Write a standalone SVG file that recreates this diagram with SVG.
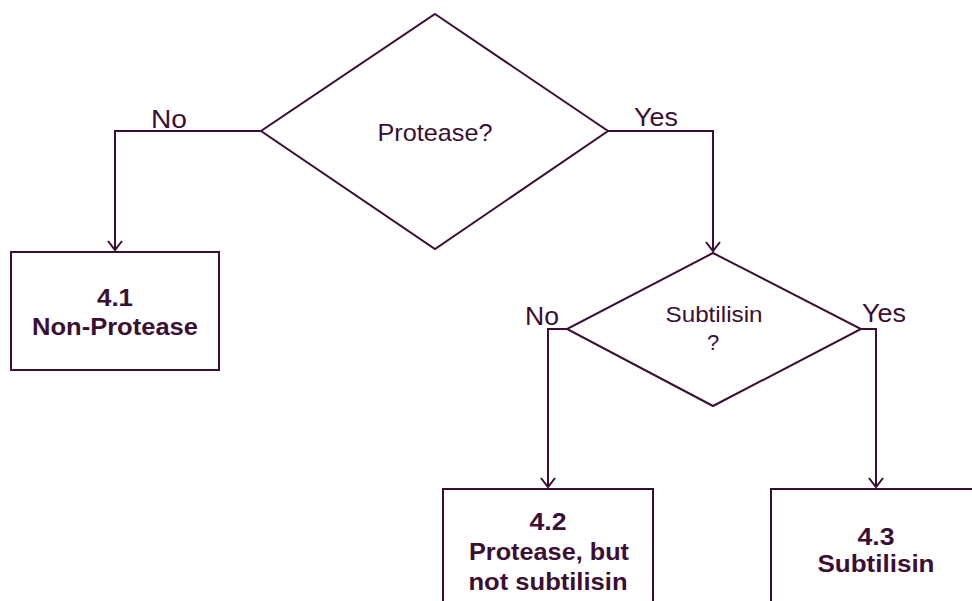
<svg xmlns="http://www.w3.org/2000/svg" width="972" height="601" viewBox="0 0 972 601">
<style>
.s{fill:#fff;stroke:#3a0f33;stroke-width:2}
.c{fill:none;stroke:#3a0f33;stroke-width:2}
.t{font-family:"Liberation Sans",Arial,sans-serif;fill:#3a0f33;text-anchor:middle}
.b{font-weight:bold;font-size:23px}
.l{font-size:25px;text-anchor:start}
</style>
<defs>
<marker id="a" viewBox="0 0 20 20" refX="10" refY="10" markerWidth="20" markerHeight="20" markerUnits="userSpaceOnUse" orient="auto">
<path d="M1,3 L10,10 L1,17" fill="none" stroke="#3a0f33" stroke-width="2"/>
</marker>
</defs>
<rect width="972" height="601" fill="#fff"/>
<g id="connectors">
<path class="c" d="M261,131 H115 V250" marker-end="url(#a)"/>
<path class="c" d="M608,131 H713 V251" marker-end="url(#a)"/>
<path class="c" d="M567,329 H548 V487" marker-end="url(#a)"/>
<path class="c" d="M861,329 H876 V487" marker-end="url(#a)"/>
<text class="t l" x="151" y="128" textLength="36" lengthAdjust="spacingAndGlyphs">No</text>
<text class="t l" x="634" y="126" textLength="44" lengthAdjust="spacingAndGlyphs">Yes</text>
<text class="t l" x="525" y="325" textLength="34" lengthAdjust="spacingAndGlyphs">No</text>
<text class="t l" x="862" y="322" textLength="44" lengthAdjust="spacingAndGlyphs">Yes</text>
</g>
<g id="d1">
<polygon class="s" points="435,14 608,131 435,249 261,131"/>
<text class="t" x="435" y="141" font-size="24" textLength="115" lengthAdjust="spacingAndGlyphs">Protease?</text>
</g>
<g id="d2">
<polygon class="s" points="713,253 861,329 713,406 567,329"/>
<text class="t" x="714" y="322" font-size="22" textLength="97" lengthAdjust="spacingAndGlyphs">Subtilisin</text>
<text class="t" x="713" y="350" font-size="22">?</text>
</g>
<g id="n41">
<rect class="s" x="11" y="252" width="208" height="118"/>
<text class="t b" x="115" y="306" textLength="36" lengthAdjust="spacingAndGlyphs">4.1</text>
<text class="t b" x="115" y="335" textLength="166" lengthAdjust="spacingAndGlyphs">Non-Protease</text>
</g>
<g id="n42">
<rect class="s" x="443" y="489" width="210" height="130"/>
<text class="t b" x="548" y="530" textLength="37" lengthAdjust="spacingAndGlyphs">4.2</text>
<text class="t b" x="549" y="560" textLength="160" lengthAdjust="spacingAndGlyphs">Protease, but</text>
<text class="t b" x="548" y="590" textLength="159" lengthAdjust="spacingAndGlyphs">not subtilisin</text>
</g>
<g id="n43">
<rect class="s" x="771" y="489" width="220" height="130"/>
<text class="t b" x="876" y="545" textLength="37" lengthAdjust="spacingAndGlyphs">4.3</text>
<text class="t b" x="876" y="572" textLength="117" lengthAdjust="spacingAndGlyphs">Subtilisin</text>
</g>
</svg>
